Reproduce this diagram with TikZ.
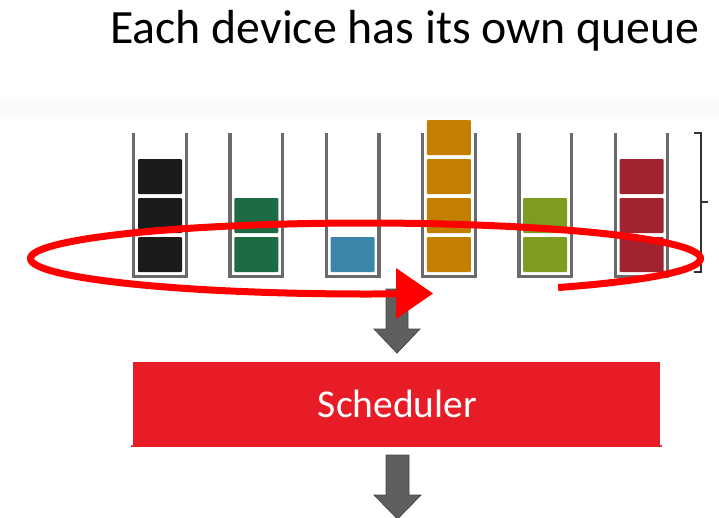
\documentclass[tikz,border=0pt]{standalone}
\usepackage{fontspec}
\setmainfont{Carlito}
\definecolor{band}{HTML}{FAFAFA}
\definecolor{tubegray}{HTML}{6A6A6A}
\definecolor{cblack}{HTML}{1B1B1B}
\definecolor{cgreen}{HTML}{1C6B42}
\definecolor{cblue}{HTML}{3C87A9}
\definecolor{corange}{HTML}{C27F00}
\definecolor{colive}{HTML}{7E9C20}
\definecolor{cred}{HTML}{A1232F}
\definecolor{schedred}{HTML}{E81C27}
\definecolor{schedline}{HTML}{E0414A}
\definecolor{arrowgray}{HTML}{5F5F5F}
\definecolor{arrowedge}{HTML}{474747}
\definecolor{loopred}{HTML}{FF0000}
\definecolor{brk}{HTML}{333333}
\begin{document}
\begin{tikzpicture}[x=1pt,y=-1pt,
  tube/.style={draw=tubegray,line width=3.3pt,line join=miter},
  blockbox/.style={rounded corners=1pt},
  blockarrow/.style={fill=arrowgray,draw=arrowedge,line width=0.8pt},
  loop/.style={draw=loopred,line width=7pt},
  bracketline/.style={draw=brk,line width=1.4pt},
  sched/.style={fill=schedred,inner sep=0pt,minimum width=527pt,minimum height=85pt},
  schedtext/.style={text=white,font=\fontsize{39.5}{45}\selectfont,inner sep=0pt},
  titletext/.style={text=black,font=\fontsize{47.8}{55}\selectfont,inner sep=0pt}]
\useasboundingbox (0,0) rectangle (719,517);
% light band
\fill[band] (0,99) rectangle (719,117);
% title
\node[titletext,anchor=base west] (title) at (110,43) {Each device has its own queue};
% queues
\foreach \i/\n/\c in {0/3/cblack,1/2/cgreen,2/1/cblue,3/4/corange,4/2/colive,5/3/cred}{
  \pgfmathsetmacro{\cx}{160+96.3*\i}
  \foreach \k in {1,...,\n}{
    \pgfmathsetmacro{\yb}{272-39*(\k-1)}
    \fill[blockbox,\c] (\cx-22,\yb) rectangle (\cx+22,\yb-35);
  }
  \draw[tube] (\cx-26.3,133.3) -- (\cx-26.3,276.7) -- (\cx+26.3,276.7) -- (\cx+26.3,133.3);
}
% bracket
\draw[bracketline] (694,133) -- (701,133) -- (701,272) -- (694,272);
\draw[bracketline] (701,202) -- (708,202);
% gray arrow above scheduler
\draw[blockarrow] (386,289) -- (408,289) -- (408,329) -- (420,329) -- (397,353) -- (374,329) -- (386,329) -- cycle;
% scheduler
\draw[schedline,line width=1.5pt] (131,446) -- (662,446);
\node[sched] (sched) at (396.5,404.5) {};
\node[schedtext,anchor=base] (schedlabel) at (397.5,417) {Scheduler};
% gray arrow below scheduler
\draw[blockarrow] (386,455) -- (409,455) -- (409,495) -- (421,495) -- (397.5,519) -- (374,495) -- (386,495) -- cycle;
% red round-robin loop
\draw[loop,line cap=butt] plot[domain=54.9:-275.2,samples=240,smooth] ({365.5+335*cos(\x)},{258.5+35.5*sin(\x)});
\fill[loopred] (396,268) -- (433,293.5) -- (396,319) -- cycle;
\end{tikzpicture}
\end{document}
